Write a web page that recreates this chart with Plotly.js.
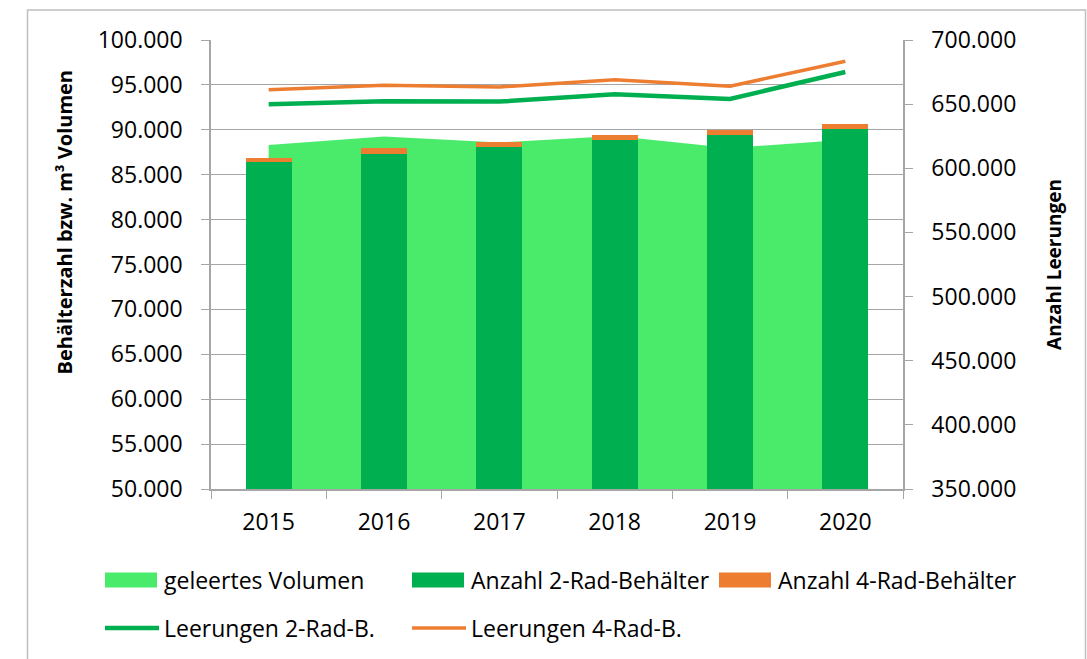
<!DOCTYPE html>
<html>
<head>
<meta charset="utf-8">
<script src="https://cdn.plot.ly/plotly-3.0.1.min.js"></script>
<style>html,body{margin:0;padding:0;background:#fff;}#chart{width:1087px;height:659px;}</style>
</head>
<body>
<div id="chart"></div>
<script>
// ---- data ----
const years = ['2015', '2016', '2017', '2018', '2019', '2020'];
const geleertesVolumen = [88300, 89260, 88590, 89310, 87970, 88900];
const anzahl2Rad = [86370, 87330, 88080, 88810, 89370, 90140];
const anzahl4Rad = [520, 590, 590, 560, 590, 560];
const leerungen2Rad = [650000, 652300, 652000, 657700, 654100, 675100];
const leerungen4Rad = [661300, 664700, 663400, 669100, 664000, 683400];

const seriesNames = ['geleertes Volumen', 'Anzahl 2-Rad-Behälter', 'Anzahl 4-Rad-Behälter', 'Leerungen 2-Rad-B.', 'Leerungen 4-Rad-B.'];
const leftTitle = 'Behälterzahl bzw. m³ Volumen';
const rightTitle = 'Anzahl Leerungen';
const colLight = '#4AEA6A', colDark = '#00B050', colOrange = '#ED7D31';
const gray = '#A6A6A6';
const FONT = 'Open Sans';

const traces = [
  { type: 'scatter', mode: 'lines', name: seriesNames[0], x: years, y: geleertesVolumen,
    fill: 'tozeroy', fillcolor: colLight, line: { width: 0, color: colLight },
    xaxis: 'x', yaxis: 'y', hoverinfo: 'x+y', showlegend: false },
  { type: 'bar', name: seriesNames[1], x: years, y: anzahl2Rad, width: 0.4,
    marker: { color: colDark }, xaxis: 'x', yaxis: 'y2', showlegend: false },
  { type: 'bar', name: seriesNames[2], x: years, y: anzahl4Rad, width: 0.4,
    marker: { color: colOrange }, xaxis: 'x', yaxis: 'y2', showlegend: false },
  { type: 'scatter', mode: 'lines', name: seriesNames[3], x: years, y: leerungen2Rad,
    line: { color: colDark, width: 4.5 }, xaxis: 'x', yaxis: 'y3', showlegend: false },
  { type: 'scatter', mode: 'lines', name: seriesNames[4], x: years, y: leerungen4Rad,
    line: { color: colOrange, width: 3.5 }, xaxis: 'x', yaxis: 'y3', showlegend: false }
];

// plot area in pixels: x 211..903, y 40..489
const L = 211, R = 903, T = 40, B = 489;
const px = v => (v - L) / (R - L);
const py = v => (B - v) / (B - T);

const shapes = [
  { type: 'rect', xref: 'paper', yref: 'paper', x0: px(27.5), x1: px(1085.5), y0: py(700), y1: py(10),
    line: { color: '#BFBFBF', width: 1.5 }, fillcolor: 'rgba(0,0,0,0)', layer: 'below' }
];
const annotations = [
  { xref: 'paper', yref: 'paper', x: px(63.5), y: py(222), xanchor: 'center', yanchor: 'middle', textangle: -90,
    text: leftTitle, showarrow: false, font: { family: FONT, size: 20, weight: 'bold', color: '#000' } }
];
// custom legend (symbols + text)
const legendItems = [
  { name: seriesNames[0], kind: 'rect', color: colLight, x: 105, y: 580 },
  { name: seriesNames[1], kind: 'rect', color: colDark, x: 412, y: 580 },
  { name: seriesNames[2], kind: 'rect', color: colOrange, x: 719, y: 580 },
  { name: seriesNames[3], kind: 'line', color: colDark, w: 4.5, x: 105, y: 628 },
  { name: seriesNames[4], kind: 'line', color: colOrange, w: 3.5, x: 412, y: 628 }
];
legendItems.forEach(it => {
  if (it.kind === 'rect') {
    shapes.push({ type: 'rect', xref: 'paper', yref: 'paper', x0: px(it.x), x1: px(it.x + 52),
      y0: py(it.y + 7.5), y1: py(it.y - 7.5), fillcolor: it.color, line: { width: 0 } });
  } else {
    shapes.push({ type: 'line', xref: 'paper', yref: 'paper', x0: px(it.x), x1: px(it.x + 54),
      y0: py(it.y), y1: py(it.y), line: { color: it.color, width: it.w } });
  }
  annotations.push({ xref: 'paper', yref: 'paper', x: px(it.x + 57), y: py(it.y), xanchor: 'left', yanchor: 'middle',
    text: it.name, showarrow: false, font: { family: FONT, size: 23, color: '#000' } });
});

const layout = {
  width: 1087, height: 659,
  margin: { l: L, r: 1087 - R, t: T, b: 659 - B },
  paper_bgcolor: '#fff', plot_bgcolor: 'rgba(0,0,0,0)',
  font: { family: FONT, size: 23, color: '#000' },
  separators: ',.',
  barmode: 'stack',
  showlegend: false,
  xaxis: { type: 'category', tickson: 'boundaries', ticks: 'outside', ticklen: 8, tickcolor: gray,
    showline: true, linecolor: gray, linewidth: 1.5, showgrid: false, ticklabelstandoff: 12,
    tickfont: { family: FONT, size: 23, color: '#000' } },
  yaxis: { range: [50000, 100000], dtick: 5000, tickformat: ',.0f', ticks: 'outside', ticklen: 8, tickcolor: gray,
    showline: true, linecolor: gray, linewidth: 1.5, gridcolor: gray, gridwidth: 1, zeroline: false,
    ticklabelstandoff: 14, tickfont: { family: FONT, size: 23, color: '#000' } },
  yaxis2: { overlaying: 'y', range: [50000, 100000], visible: false, showgrid: false },
  yaxis3: { overlaying: 'y', side: 'right', range: [350000, 700000], dtick: 50000, tickformat: ',.0f',
    ticks: 'outside', ticklen: 8, tickcolor: gray, showline: true, linecolor: gray, linewidth: 1.5,
    showgrid: false, zeroline: false, ticklabelstandoff: 14, tickfont: { family: FONT, size: 23, color: '#000' },
    title: { text: rightTitle, standoff: 32, font: { family: FONT, size: 19, weight: 'bold', color: '#000' } } },
  shapes: shapes,
  annotations: annotations
};

Plotly.newPlot('chart', traces, layout, { displayModeBar: false, responsive: false });
</script>
</body>
</html>
